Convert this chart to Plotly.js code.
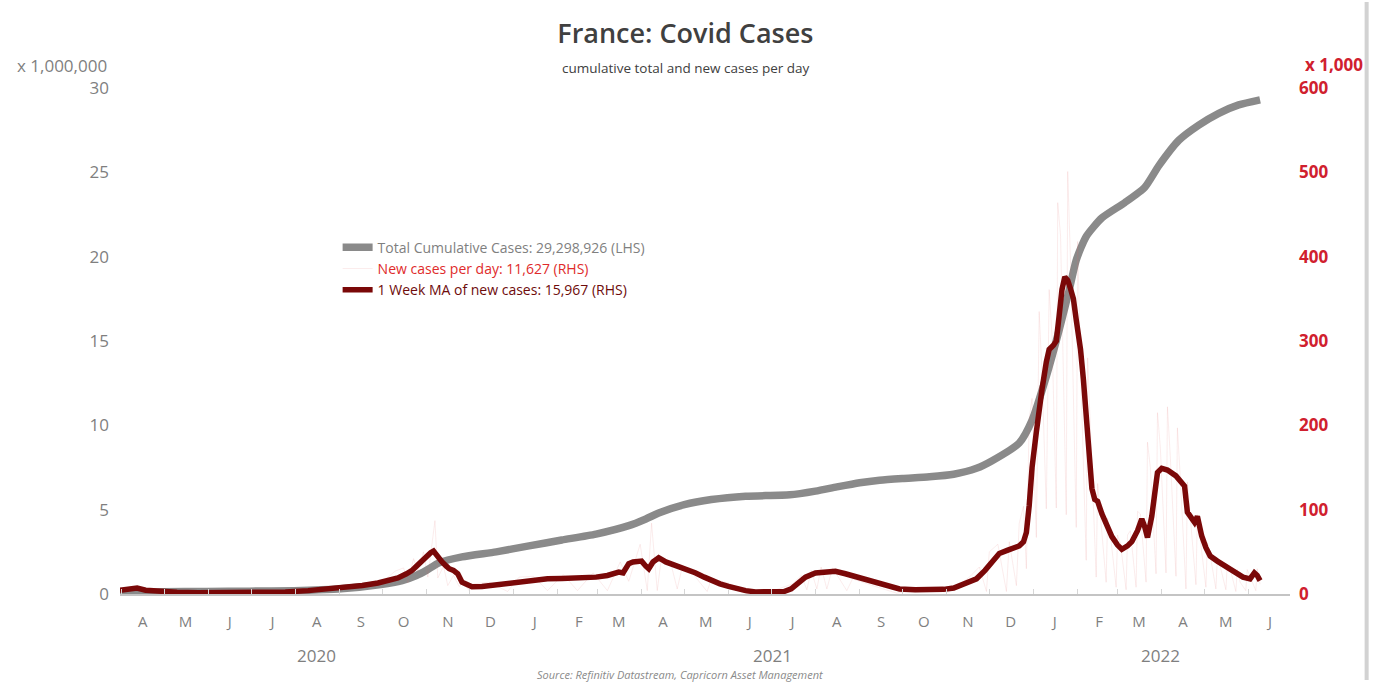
<!DOCTYPE html>
<html>
<head>
<meta charset="utf-8">
<script src="https://cdn.plot.ly/plotly-3.0.1.min.js"></script>
<style>
  html, body { margin: 0; padding: 0; background: #ffffff; }
  #chart { width: 1379px; height: 683px; }
</style>
</head>
<body>
<div id="chart"></div>
<script>
// France Covid-19 cases: cumulative total (millions, LHS), daily new cases and
// their 1-week moving average (thousands, RHS).

const cumDates = [
  '2020-03-31','2020-04-30','2020-05-31','2020-06-30','2020-07-31','2020-08-31','2020-09-30',
  '2020-10-15','2020-10-25','2020-11-01','2020-11-10','2020-11-26','2020-12-20','2021-01-12',
  '2021-02-04','2021-02-28','2021-03-23','2021-04-04','2021-04-13','2021-05-01','2021-05-20',
  '2021-06-13','2021-07-14','2021-08-01','2021-08-16','2021-09-01','2021-09-15','2021-10-01',
  '2021-10-20','2021-11-06','2021-11-22','2021-12-03','2021-12-22','2021-12-31','2022-01-10',
  '2022-01-19','2022-01-26','2022-01-31','2022-02-07','2022-02-18','2022-03-06','2022-03-20',
  '2022-03-30','2022-04-13','2022-04-27','2022-05-11','2022-05-25','2022-06-09'
];
const cumMillions = [
  0.05,0.13,0.15,0.17,0.20,0.29,0.56,
  0.80,1.10,1.40,1.85,2.20,2.50,2.85,
  3.20,3.55,4.05,4.45,4.80,5.30,5.60,
  5.80,5.88,6.10,6.35,6.60,6.75,6.85,
  6.95,7.10,7.45,7.90,8.95,10.30,12.90,
  15.65,18.00,19.80,21.20,22.30,23.20,24.10,
  25.40,26.90,27.80,28.50,29.00,29.30
];

const maDates = [
  '2020-03-31','2020-04-06','2020-04-12','2020-04-18','2020-04-28','2020-05-10','2020-05-25',
  '2020-06-15','2020-07-05','2020-07-25','2020-08-10','2020-08-25','2020-09-05','2020-09-17',
  '2020-09-28','2020-10-06','2020-10-12','2020-10-18','2020-10-22','2020-10-25','2020-10-29',
  '2020-11-01','2020-11-04','2020-11-06','2020-11-09','2020-11-12','2020-11-15','2020-11-17',
  '2020-11-20','2020-11-23','2020-11-26','2020-11-30','2020-12-03','2020-12-10','2020-12-20',
  '2020-12-31','2021-01-12','2021-01-25','2021-02-04','2021-02-15','2021-02-28','2021-03-08',
  '2021-03-16','2021-03-19','2021-03-23','2021-03-26','2021-04-01','2021-04-04','2021-04-06',
  '2021-04-09','2021-04-13','2021-04-18','2021-04-27','2021-05-03','2021-05-09','2021-05-15',
  '2021-05-20','2021-05-26','2021-06-01','2021-06-07','2021-06-13','2021-06-20','2021-07-01',
  '2021-07-10','2021-07-15','2021-07-20','2021-07-25','2021-08-01','2021-08-08','2021-08-15',
  '2021-08-22','2021-09-01','2021-09-10','2021-09-20','2021-09-29','2021-10-10','2021-10-20',
  '2021-10-30','2021-11-06','2021-11-10','2021-11-16','2021-11-22','2021-11-28','2021-12-03',
  '2021-12-08','2021-12-14','2021-12-18','2021-12-22','2021-12-25','2021-12-27','2021-12-29',
  '2021-12-31','2022-01-03','2022-01-05','2022-01-07','2022-01-10','2022-01-12','2022-01-15',
  '2022-01-17','2022-01-19','2022-01-21','2022-01-23','2022-01-25','2022-01-27','2022-01-29',
  '2022-01-31','2022-02-03','2022-02-05','2022-02-07','2022-02-09','2022-02-11','2022-02-13',
  '2022-02-15','2022-02-18','2022-02-21','2022-02-25','2022-03-01','2022-03-04','2022-03-08',
  '2022-03-11','2022-03-15','2022-03-18','2022-03-20','2022-03-22','2022-03-25','2022-03-27',
  '2022-03-29','2022-04-01','2022-04-05','2022-04-11','2022-04-15','2022-04-17','2022-04-19',
  '2022-04-22','2022-04-24','2022-04-26','2022-04-29','2022-05-02','2022-05-05','2022-05-10',
  '2022-05-16','2022-05-22','2022-05-28','2022-06-02','2022-06-05','2022-06-07','2022-06-09'
];
const maThousands = [
  4.5,6,7,4.5,3,2,1.5,
  1.5,1.5,2.5,4,6,8,10,
  13,16,19,24,28,33,40,
  45,49,51,44,38,33,30,
  28,24,14,10,8.5,9,11,
  13,16,18,18.5,19,20,22,
  26,25,36,38,39,33,30,
  38,43,38,33,29,25,20,
  16,12,9,6,4,2.5,2.5,
  3,6,13,20,25,26.5,27,
  24,19,14,9,6,5,5,
  5.5,7,10,13,18,28,38,
  48,52,54,57,62,73,105,
  150,192,225,243,275,290,295,
  300,330,361,376,372,362,350,
  325,290,255,215,165,125,112,
  110,95,82,68,58,53,57,
  62,75,89,80,67,92,125,
  144,149,147,140,133,128,97,
  90,85,92,69,55,45,39,
  33,26,20,18,25,22,15.967
];

const dailyDates = [
  '2020-03-31','2020-04-15','2020-05-15','2020-06-15','2020-07-15','2020-08-15','2020-09-05',
  '2020-09-19','2020-10-03','2020-10-10','2020-10-16','2020-10-19','2020-10-23','2020-10-26',
  '2020-10-30','2020-11-02','2020-11-07','2020-11-09','2020-11-13','2020-11-16','2020-11-20',
  '2020-11-24','2020-11-27','2020-12-01','2020-12-04','2020-12-15','2020-12-28','2021-01-05',
  '2021-01-15','2021-01-25','2021-02-05','2021-02-15','2021-02-26','2021-03-08','2021-03-17',
  '2021-03-23','2021-03-31','2021-04-05','2021-04-08','2021-04-12','2021-04-15','2021-04-22',
  '2021-04-26','2021-04-29','2021-05-06','2021-05-17','2021-05-20','2021-06-01','2021-06-14',
  '2021-07-01','2021-07-16','2021-07-22','2021-07-26','2021-07-29','2021-08-02','2021-08-05',
  '2021-08-09','2021-08-13','2021-08-23','2021-08-27','2021-09-10','2021-09-27','2021-10-15',
  '2021-11-02','2021-11-10','2021-11-17','2021-11-24','2021-11-29','2021-12-01','2021-12-07',
  '2021-12-13','2021-12-15','2021-12-20','2021-12-22','2021-12-25','2021-12-27','2021-12-29',
  '2021-12-31','2022-01-03','2022-01-05','2022-01-07','2022-01-10','2022-01-12','2022-01-14',
  '2022-01-17','2022-01-18','2022-01-20','2022-01-24','2022-01-25','2022-01-27','2022-01-31',
  '2022-02-01','2022-02-03','2022-02-07','2022-02-08','2022-02-10','2022-02-14','2022-02-15',
  '2022-02-17','2022-02-21','2022-02-22','2022-02-24','2022-02-28','2022-03-01','2022-03-03',
  '2022-03-07','2022-03-08','2022-03-10','2022-03-14','2022-03-15','2022-03-17','2022-03-21',
  '2022-03-22','2022-03-24','2022-03-28','2022-03-29','2022-03-31','2022-04-04','2022-04-05',
  '2022-04-07','2022-04-11','2022-04-12','2022-04-14','2022-04-18','2022-04-19','2022-04-21',
  '2022-04-25','2022-04-26','2022-04-28','2022-05-02','2022-05-03','2022-05-05','2022-05-09',
  '2022-05-10','2022-05-12','2022-05-16','2022-05-17','2022-05-19','2022-05-23','2022-05-24',
  '2022-05-26','2022-05-30','2022-05-31','2022-06-02','2022-06-06','2022-06-07','2022-06-09'
];
const dailyThousands = [
  7,5,1,1,2,4,9,
  13,17,27,31,13,42,27,
  50,20,87,19,33,10,22,
  9,13,4,12,14,3,20,
  21,4,23,4,25,4,38,
  15,59,4,84,4,44,33,
  6,28,26,3,18,13,1,
  3,12,22,5,28,6,32,
  6,31,4,18,10,1,6,
  2,11,20,32,3,50,59,
  3,62,10,84,104,30,208,
  232,67,335,261,101,361,306,
  102,464,425,94,501,393,79,
  418,272,40,280,189,20,131,
  90,14,90,70,8,70,60,
  5,70,75,8,98,95,14,
  180,150,24,215,174,25,222,
  163,21,197,138,6,133,95,
  11,94,66,8,61,46,6,
  42,33,5,35,30,3,29,
  14,4,29,20,4,30,11.627
];

// Axis text
const monthLetters = ['A','M','J','J','A','S','O','N','D','J','F','M','A','M','J','J','A','S','O','N','D','J','F','M','A','M','J'];
const yearLabels = ['2020','2021','2022'];
const yearCentres = ['2020-08-16','2021-07-02','2022-03-31'];
const leftTicks = [0,5,10,15,20,25,30];
const rightTicks = [0,100,200,300,400,500,600];

// Month labels sit in the middle of each month, starting April 2020
const monthMid = monthLetters.map((_, i) => {
  const d = new Date(Date.UTC(2020, 3 + i, 16));
  return d.toISOString().slice(0, 10);
});

const GREY_TXT = '#7f7f7f';
const RED_TXT = '#d0202e';
const FONT = 'Open Sans, Noto Sans, sans-serif';

const traces = [
  {
    x: cumDates, y: cumMillions, yaxis: 'y', type: 'scatter', mode: 'lines',
    line: { color: '#8a8a8a', width: 7.5, shape: 'spline', smoothing: 0.6 },
    name: 'Total Cumulative Cases: 29,298,926 (LHS)'
  },
  {
    x: dailyDates, y: dailyThousands, yaxis: 'y2', type: 'scatter', mode: 'lines',
    line: { color: 'rgba(225,110,110,0.13)', width: 1 },
    name: '<span style="color:#e02b2b">New cases per day: 11,627 (RHS)</span>'
  },
  {
    x: maDates, y: maThousands, yaxis: 'y2', type: 'scatter', mode: 'lines',
    line: { color: '#7a0808', width: 5.5 },
    name: '<span style="color:#6e0b0b">1 Week MA of new cases: 15,967 (RHS)</span>'
  }
];

const layout = {
  width: 1379, height: 683,
  paper_bgcolor: '#ffffff', plot_bgcolor: '#ffffff',
  margin: { l: 120, r: 89, t: 88, b: 89 },
  font: { family: FONT, color: GREY_TXT },
  title: {
    text: 'France: Covid Cases',
    font: { family: FONT, size: 27, color: '#404040', weight: 600 },
    xref: 'container', x: 0.497, xanchor: 'center',
    yref: 'container', y: 0.951, yanchor: 'middle'
  },
  showlegend: true,
  legend: {
    x: 0.186, y: 0.716, xanchor: 'left', yanchor: 'top',
    bgcolor: 'rgba(0,0,0,0)', font: { family: FONT, size: 14, color: '#7f7f7f' },
    tracegroupgap: 0, itemwidth: 30
  },
  xaxis: {
    type: 'date',
    range: ['2020-03-31', '2022-06-30'],
    showgrid: false, zeroline: false,
    showline: true, linecolor: '#c4c4c4', linewidth: 1.5,
    tickmode: 'array', tickvals: monthMid, ticktext: monthLetters,
    ticks: '', ticklabelstandoff: 13,
    tickfont: { family: FONT, size: 15, color: GREY_TXT },
    minor: { ticks: 'inside', ticklen: 5, tickcolor: '#d6d6d6', dtick: 'M1', tick0: '2020-04-01', showgrid: false }
  },
  yaxis: {
    range: [0, 30], tickvals: leftTicks, showgrid: false, zeroline: false,
    showline: false, ticks: '', ticklabelstandoff: 10,
    tickfont: { family: FONT, size: 17, color: GREY_TXT }
  },
  yaxis2: {
    range: [0, 600], tickvals: rightTicks, overlaying: 'y', side: 'right',
    showgrid: false, zeroline: false, showline: false, ticks: '', ticklabelstandoff: 8,
    tickfont: { family: FONT, size: 17, color: RED_TXT, weight: 700 }
  },
  annotations: [
    {
      text: 'cumulative total and new cases per day', xref: 'paper', yref: 'paper',
      x: 0.4838, y: 1.0395, xanchor: 'center', yanchor: 'middle', showarrow: false,
      font: { family: FONT, size: 13.5, color: '#404040' }
    },
    {
      text: 'x 1,000,000', xref: 'paper', yref: 'paper',
      x: -0.0496, y: 1.045, xanchor: 'center', yanchor: 'middle', showarrow: false,
      font: { family: FONT, size: 17, color: GREY_TXT }
    },
    {
      text: '<b>x 1,000</b>', xref: 'paper', yref: 'paper',
      x: 1.038, y: 1.047, xanchor: 'center', yanchor: 'middle', showarrow: false,
      font: { family: FONT, size: 17, color: RED_TXT }
    },
    {
      text: '<i>Source: Refinitiv Datastream, Capricorn Asset Management</i>', xref: 'paper', yref: 'paper',
      x: 0.4786, y: -0.160, xanchor: 'center', yanchor: 'middle', showarrow: false,
      font: { family: FONT, size: 11, color: '#8a8a8a' }
    }
  ].concat(yearLabels.map((t, i) => ({
    text: t, xref: 'x', yref: 'paper', x: yearCentres[i], y: -0.1206,
    xanchor: 'center', yanchor: 'middle', showarrow: false,
    font: { family: FONT, size: 17, color: GREY_TXT }
  }))),
  shapes: [
    {
      type: 'line', xref: 'paper', yref: 'paper',
      x0: 1.0655, x1: 1.0655, y0: -0.17, y1: 1.17,
      line: { color: '#d2d2d2', width: 4 }
    }
  ]
};

Plotly.newPlot('chart', traces, layout, { displayModeBar: false, staticPlot: true });
</script>
</body>
</html>
